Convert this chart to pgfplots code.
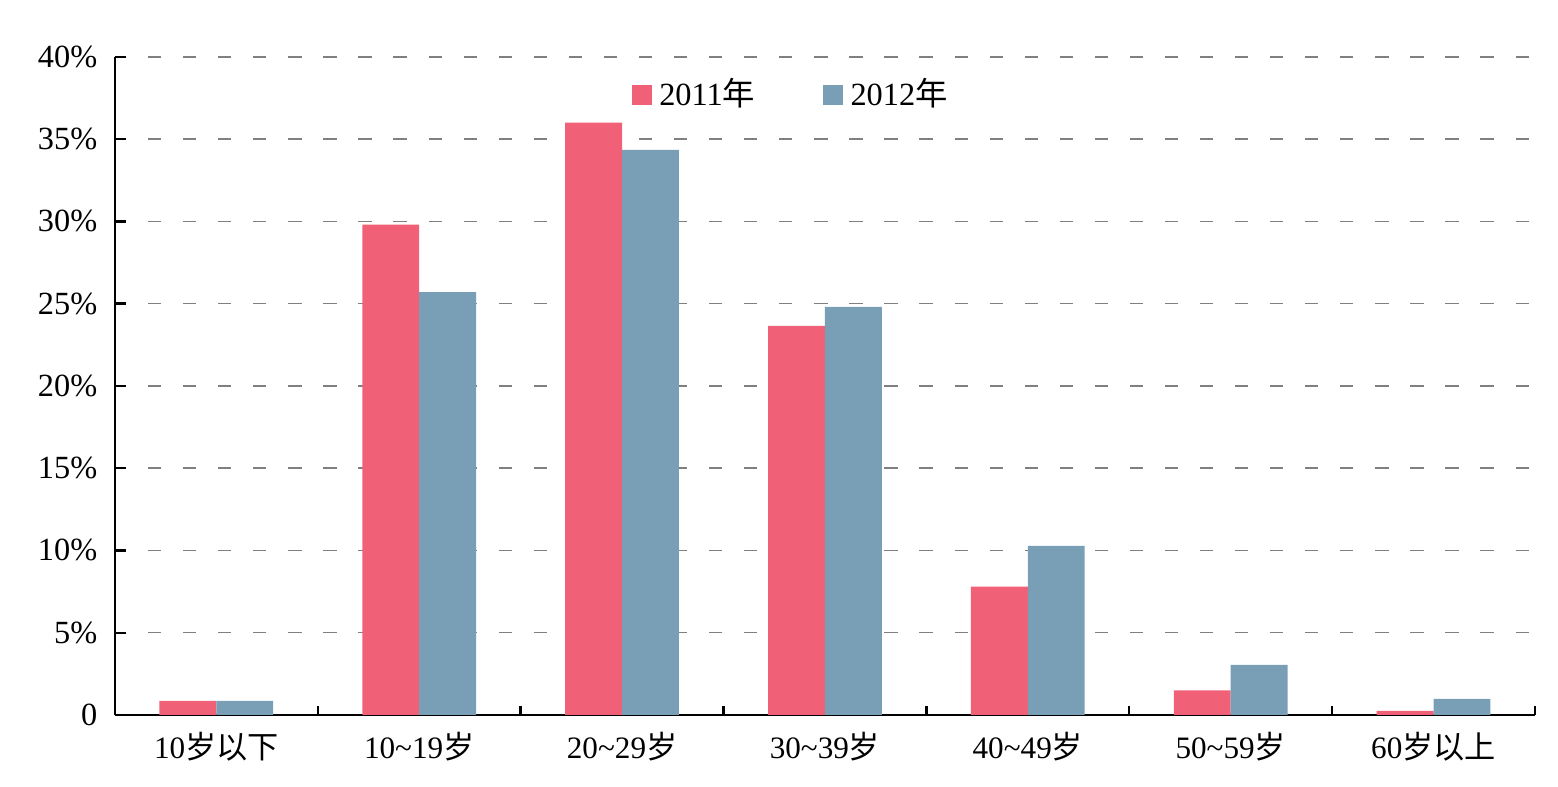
\documentclass[border=0pt]{standalone}
\usepackage{fontspec}
\setmainfont{Liberation Serif}
\newfontfamily\cjk{Noto Sans CJK SC}
\usepackage{pgfplots}
\pgfplotsset{compat=1.18}
\definecolor{c11}{HTML}{F06077}
\definecolor{c12}{HTML}{789FB5}
\begin{document}
\begin{tikzpicture}
\begin{axis}[
  at={(0,0)}, anchor=south west,
  scale only axis, width=364.5pt, height=168.9pt,
  ybar=0pt, bar width=14.6pt,
  xmin=-0.5, xmax=6.5, ymin=0, ymax=40,
  axis x line*=bottom, axis y line*=left,
  axis line style={black, line width=0.7pt},
  tick align=inside,
  xtick={0,...,6},
  xticklabels={10{\cjk 岁以下},10\textasciitilde19{\cjk 岁},20\textasciitilde29{\cjk 岁},30\textasciitilde39{\cjk 岁},40\textasciitilde49{\cjk 岁},50\textasciitilde59{\cjk 岁},60{\cjk 岁以上}},
  major x tick style={draw=none},
  minor xtick={0.5,1.5,2.5,3.5,4.5,5.5,6.5},
  minor tick length=2.2pt,
  minor x tick style={black, line width=0.6pt},
  major tick length=2.8pt,
  ytick={0,5,...,40},
  yticklabels={0,5\%,10\%,15\%,20\%,25\%,30\%,35\%,40\%},
  major y tick style={black, line width=0.6pt},
  ymajorgrids,
  major grid style={draw=gray, line width=0.35pt, dash pattern=on 3.4pt off 5.6pt, dash phase=-8.5pt},
  /pgf/number format/assume math mode=true,
  xticklabel style={font=\fontsize{8}{9}\selectfont, yshift=-0.8pt},
  yticklabel style={font=\fontsize{8.3}{9}\selectfont, xshift=-1.0pt},
  legend style={at={(0.478,0.942)}, anchor=center, draw=none, fill=none,
    font=\fontsize{8.3}{9}\selectfont, legend columns=2,
    /tikz/every even column/.append style={column sep=15.5pt},
    inner sep=0pt},
  legend image code/.code={\fill[#1] (0pt,-2.5pt) rectangle (5pt,2.5pt);},
]
\addplot[fill=c11, draw=none] coordinates {(0,0.85) (1,29.8) (2,36.0) (3,23.65) (4,7.8) (5,1.5) (6,0.25)};
\addplot[fill=c12, draw=none] coordinates {(0,0.85) (1,25.7) (2,34.35) (3,24.8) (4,10.27) (5,3.04) (6,0.97)};
\legend{2011{\cjk 年},2012{\cjk 年}}
\end{axis}
\pgfresetboundingbox
\path (-29.5pt,-18.5pt) rectangle (370.4pt,183.5pt);
\end{tikzpicture}
\end{document}
